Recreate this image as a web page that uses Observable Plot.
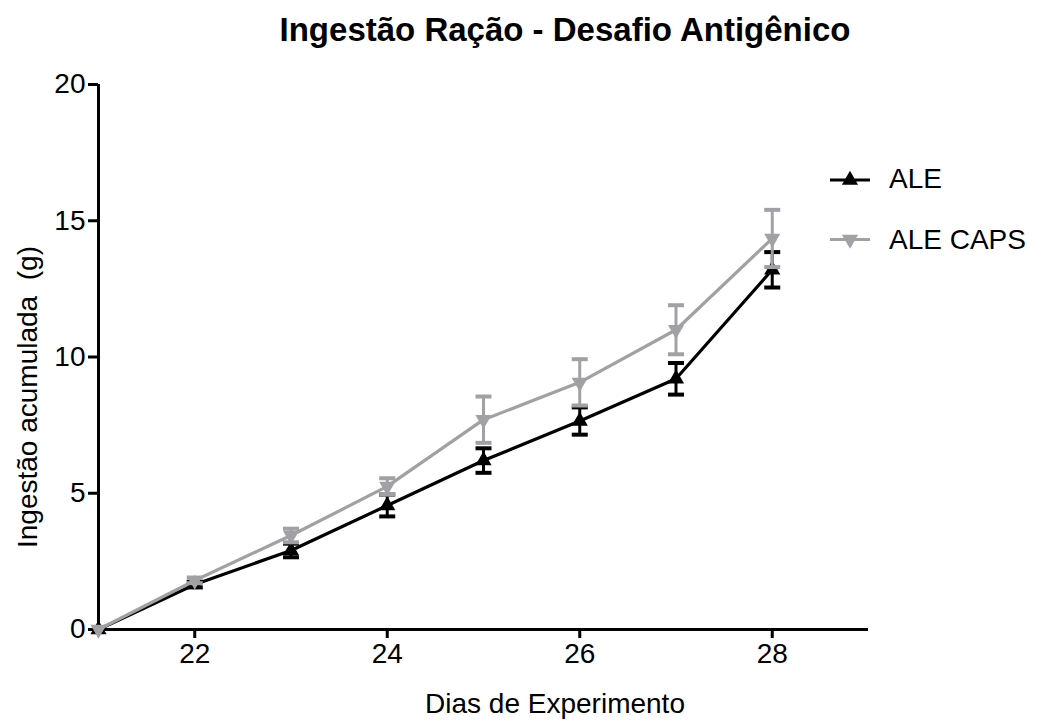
<!DOCTYPE html>
<html>
<head>
<meta charset="utf-8">
<script src="https://cdn.jsdelivr.net/npm/d3@7"></script>
<script src="https://cdn.jsdelivr.net/npm/@observablehq/plot@0.6"></script>
<style>
  html, body { margin: 0; padding: 0; background: #fff; }
  #wrap { position: relative; width: 1038px; height: 720px; background: #fff; font-family: "Liberation Sans", Arial, sans-serif; color: #000; overflow: hidden; }
  .txt { position: absolute; white-space: nowrap; line-height: 28px; font-size: 28px; }
</style>
</head>
<body>
<div id="wrap">
  <div id="chart"></div>
  <div class="txt" id="title" style="left:0;width:1130px;text-align:center;top:13px;font-size:33px;line-height:33px;font-weight:bold;">Ingestão Ração - Desafio Antigênico</div>
  <div class="txt" id="xlabel" style="left:0;width:1110px;text-align:center;top:690px;">Dias de Experimento</div>
  <div class="txt" id="ylabel" style="left:28px;top:397px;transform:translate(-50%,-50%) rotate(-90deg);">Ingestão acumulada&nbsp; (g)</div>
  <svg id="legendsym" style="position:absolute;left:0;top:0;" width="1038" height="720"></svg>
  <div class="txt" id="leg0" style="left:889px;top:165px;"></div>
  <div class="txt" id="leg1" style="left:889px;top:226px;"></div>
</div>
<script>
// ---- data ----
const days = [21, 22, 23, 24, 25, 26, 27, 28];
const seriesNames = ["ALE", "ALE CAPS"];
const aleMean = [0, 1.65, 2.9, 4.55, 6.2, 7.65, 9.2, 13.2];
const aleSem  = [0, 0.1, 0.25, 0.4, 0.45, 0.5, 0.58, 0.65];
const capsMean = [0, 1.8, 3.45, 5.25, 7.7, 9.07, 11.0, 14.35];
const capsSem  = [0, 0.1, 0.25, 0.3, 0.85, 0.85, 0.9, 1.05];
const xTicks = [22, 24, 26, 28];
const yTicks = [0, 5, 10, 15, 20];
const colors = ["#000000", "#a1a1a5"];

function rows(name, mean, sem) {
  return days.map((d, i) => ({series: name, day: d, mean: mean[i], lo: mean[i] - sem[i], hi: mean[i] + sem[i]}));
}
const data = [rows(seriesNames[0], aleMean, aleSem), rows(seriesNames[1], capsMean, capsSem)];

// horizontal cap symbol for error bars
const capSymbol = {
  draw(context, size) {
    const w = Math.sqrt(size / Math.PI);
    context.moveTo(-w, 0);
    context.lineTo(w, 0);
  }
};

function seriesMarks(rowsArr, color, rotate) {
  const withErr = rowsArr.filter(d => d.hi > d.lo);
  return [
    Plot.line(rowsArr, {x: "day", y: "mean", stroke: color, strokeWidth: 3.2}),
    Plot.ruleX(withErr, {x: "day", y1: "lo", y2: "hi", stroke: color, strokeWidth: 3}),
    Plot.dot(withErr, {x: "day", y: "lo", symbol: capSymbol, r: 8, fill: "none", stroke: color, strokeWidth: 4}),
    Plot.dot(withErr, {x: "day", y: "hi", symbol: capSymbol, r: 8, fill: "none", stroke: color, strokeWidth: 4}),
    Plot.dot(rowsArr, {x: "day", y: "mean", symbol: "triangle", r: 6, fill: color, stroke: "none", rotate: rotate})
  ];
}

const chart = Plot.plot({
  width: 1038,
  height: 720,
  marginLeft: 98,
  marginRight: 170,
  marginTop: 84,
  marginBottom: 91,
  style: {fontFamily: "'Liberation Sans', Arial, sans-serif", fontSize: "28px", color: "#000", background: "transparent"},
  x: {domain: [21, 29]},
  y: {domain: [0, 20]},
  marks: [
    Plot.axisX({ticks: xTicks, tickSize: 9, strokeWidth: 3, tickPadding: 5, label: null, fontSize: 28}),
    Plot.axisY({ticks: yTicks, tickSize: 10, strokeWidth: 3, tickPadding: 3, label: null, fontSize: 28}),
    Plot.ruleY([0], {strokeWidth: 3}),
    Plot.ruleX([21], {strokeWidth: 3}),
    ...seriesMarks(data[0], colors[0], 0),
    ...seriesMarks(data[1], colors[1], 180)
  ]
});
document.getElementById("chart").appendChild(chart);

// legend
const lg = d3.select("#legendsym");
const legY = [180, 239.5];
const tri = d3.symbol(d3.symbolTriangle, Math.PI * 6 * 6)();
seriesNames.forEach((name, i) => {
  lg.append("line").attr("x1", 830).attr("x2", 870).attr("y1", legY[i]).attr("y2", legY[i])
    .attr("stroke", colors[i]).attr("stroke-width", 3);
  lg.append("path").attr("d", tri)
    .attr("transform", `translate(850,${legY[i]}) rotate(${i === 0 ? 0 : 180})`)
    .attr("fill", colors[i]);
  document.getElementById("leg" + i).textContent = name;
});
</script>
</body>
</html>
